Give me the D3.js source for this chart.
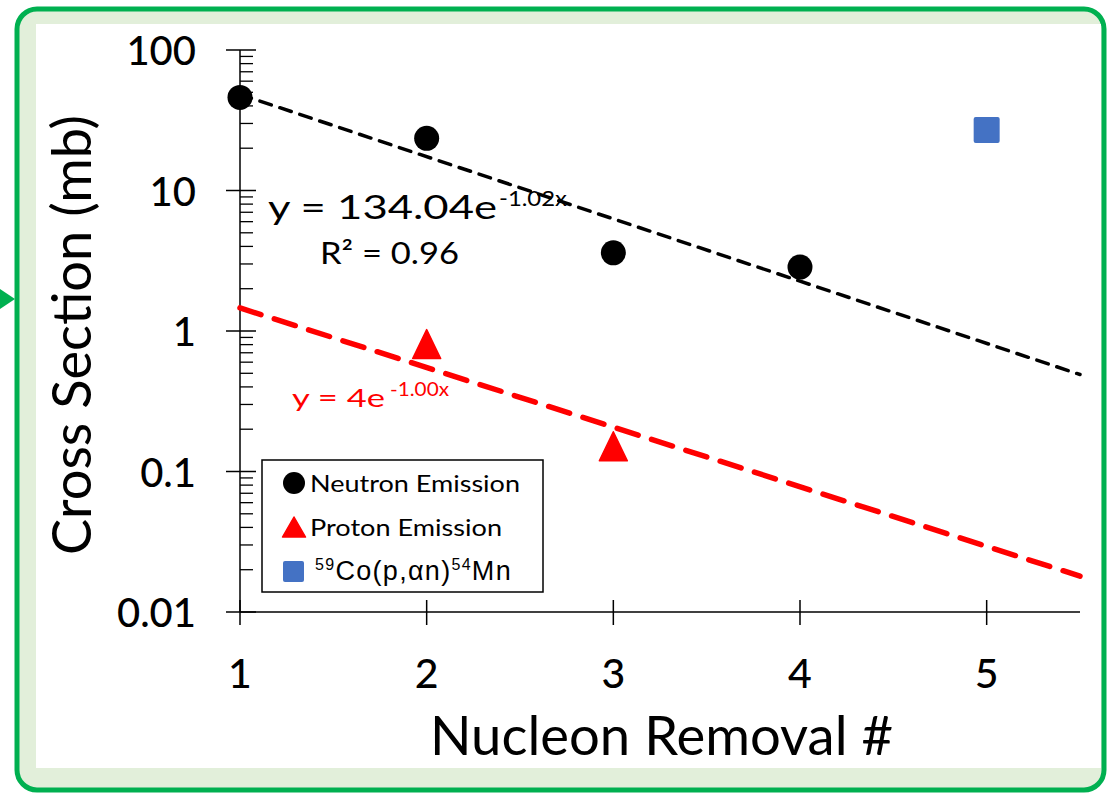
<!DOCTYPE html>
<html><head><meta charset="utf-8">
<script src="https://cdn.jsdelivr.net/npm/d3@7"></script>
<style>body{margin:0;background:#fff}svg{display:block}</style>
</head><body>
<svg id="c" width="1107" height="796"></svg>
<script>
// ---- data ----
const neutronX = [1, 2, 3, 4];
const neutronY = [46, 23.5, 3.6, 2.85];
const protonX = [2, 3];
const protonY = [0.8, 0.15];
const coX = [5];
const coY = [27];
const xTicks = [1, 2, 3, 4, 5];
const yTicks = [0.01, 0.1, 1, 10, 100];
const yTickLabels = ["0.01", "0.1", "1", "10", "100"];
// exponential trendlines (straight on log axis), endpoint values
const trendX = [1, 5.5];
const neutronTrend = [48.3, 0.49];
const protonTrend = [1.46, 0.018];

const svg = d3.select("#c");
const FONT = "Lato, 'Open Sans', sans-serif";

// frame
svg.append("rect").attr("x",17).attr("y",9).attr("width",1087).attr("height",781)
  .attr("rx",20).attr("fill","#e2efda").attr("stroke","#00b050").attr("stroke-width",5);
svg.append("rect").attr("x",36).attr("y",24).attr("width",1065).attr("height",744).attr("fill","#fff");
svg.append("path").attr("d","M0,289 L15,299 L0,309 Z").attr("fill","#00b050");

const x = d3.scaleLinear().domain([1, 5.5]).range([240, 1080]);
const y = d3.scaleLog().domain([0.01, 100]).range([612, 50]);

// y axis with minor ticks
const minor = [];
for (let e = -2; e < 2; e++) for (let m = 2; m <= 9; m++) minor.push(m * Math.pow(10, e));
const gy = svg.append("g").attr("transform","translate(240,0)");
gy.append("line").attr("y1",y(100)).attr("y2",y(0.01)).attr("stroke","#000").attr("stroke-width",1.5);
gy.selectAll(".mn").data(minor).join("line").attr("x1",0).attr("x2",13)
  .attr("y1",d=>y(d)).attr("y2",d=>y(d)).attr("stroke","#000").attr("stroke-width",1.3);
gy.selectAll(".mj").data(yTicks).join("line").attr("x1",-14).attr("x2",16)
  .attr("y1",d=>y(d)).attr("y2",d=>y(d)).attr("stroke","#000").attr("stroke-width",1.5);
gy.selectAll(".lb").data(yTicks).join("text").attr("x",-44).attr("y",d=>y(d)+15)
  .attr("text-anchor","end").attr("font-family",FONT).attr("font-weight",500)
  .attr("font-size",40).attr("fill","#000").text((d,i)=>yTickLabels[i]);

// x axis
const gx = svg.append("g").attr("transform","translate(0,612)");
gx.append("line").attr("x1",x(1)).attr("x2",x(5.5)).attr("stroke","#000").attr("stroke-width",1.5);
gx.selectAll(".t").data(xTicks).join("line").attr("x1",d=>x(d)).attr("x2",d=>x(d))
  .attr("y1",-12).attr("y2",13).attr("stroke","#000").attr("stroke-width",1.5);
gx.selectAll(".l").data(xTicks).join("text").attr("x",d=>x(d)).attr("y",76)
  .attr("text-anchor","middle").attr("font-family",FONT).attr("font-weight",500)
  .attr("font-size",41).attr("fill","#000").text(d=>d);

// titles
svg.append("text").attr("x",661.5).attr("y",755).attr("text-anchor","middle")
  .attr("font-family",FONT).attr("font-size",54).attr("textLength",463).attr("lengthAdjust","spacingAndGlyphs")
  .attr("fill","#000").text("Nucleon Removal #");
svg.append("text").attr("transform","translate(91,335) rotate(-90)").attr("text-anchor","middle")
  .attr("font-family",FONT).attr("font-size",54).attr("textLength",440).attr("lengthAdjust","spacingAndGlyphs")
  .attr("fill","#000").text("Cross Section (mb)");

// trendlines
const line = d3.line().x(d=>x(d[0])).y(d=>y(d[1]));
svg.append("path").attr("d", line(trendX.map((v,i)=>[v, neutronTrend[i]])))
  .attr("fill","none").attr("stroke","#000").attr("stroke-width",3.5)
  .attr("stroke-dasharray","12,9").attr("stroke-linecap","round");
svg.append("path").attr("d", line(trendX.map((v,i)=>[v, protonTrend[i]])))
  .attr("fill","none").attr("stroke","#ff0000").attr("stroke-width",5.5)
  .attr("stroke-dasharray","22,14").attr("stroke-linecap","round");

// points
svg.selectAll(".n").data(neutronX).join("circle").attr("cx",d=>x(d)).attr("cy",(d,i)=>y(neutronY[i]))
  .attr("r",12.5).attr("fill","#000");
const triPath = "M0,-15 L14,14 L-14,14 Z";
svg.selectAll(".p").data(protonX).join("path").attr("d",triPath)
  .attr("transform",(d,i)=>`translate(${x(d)},${y(protonY[i])})`).attr("fill","#ff0000")
  .attr("stroke","#ff0000").attr("stroke-width",1.5).attr("stroke-linejoin","round");
svg.selectAll(".s").data(coX).join("rect").attr("x",d=>x(d)-13).attr("y",(d,i)=>y(coY[i])-13)
  .attr("width",26).attr("height",26).attr("rx",2).attr("fill","#4472c4");

// equations
svg.append("text").attr("x",268).attr("y",219).attr("font-family",FONT).attr("font-size",32)
  .attr("textLength",229).attr("lengthAdjust","spacingAndGlyphs").attr("fill","#000").text("y = 134.04e");
svg.append("text").attr("x",499).attr("y",206).attr("font-family",FONT).attr("font-size",21)
  .attr("textLength",68).attr("lengthAdjust","spacingAndGlyphs").attr("fill","#000").text("-1.02x");
svg.append("text").attr("x",320).attr("y",264).attr("font-family",FONT).attr("font-size",31)
  .attr("textLength",139).attr("lengthAdjust","spacingAndGlyphs").attr("fill","#000").text("R² = 0.96");
svg.append("text").attr("x",292).attr("y",407).attr("font-family",FONT).attr("font-size",25)
  .attr("textLength",93).attr("lengthAdjust","spacingAndGlyphs").attr("fill","#ff0000").text("y = 4e");
svg.append("text").attr("x",390).attr("y",396).attr("font-family",FONT).attr("font-size",20)
  .attr("textLength",59).attr("lengthAdjust","spacingAndGlyphs").attr("fill","#ff0000").text("-1.00x");

// legend
const lg = svg.append("g");
lg.append("rect").attr("x",262).attr("y",460).attr("width",281).attr("height",132)
  .attr("fill","#fff").attr("stroke","#000").attr("stroke-width",1.5);
lg.append("circle").attr("cx",294).attr("cy",483).attr("r",11).attr("fill","#000");
lg.append("path").attr("d","M0,-10 L11.5,10 L-11.5,10 Z").attr("transform","translate(294,527)")
  .attr("fill","#ff0000").attr("stroke","#ff0000").attr("stroke-width",1.5).attr("stroke-linejoin","round");
lg.append("rect").attr("x",283).attr("y",561).attr("width",21).attr("height",21).attr("rx",2).attr("fill","#4472c4");
lg.append("text").attr("x",310).attr("y",492).attr("font-family",FONT).attr("font-size",24)
  .attr("textLength",210).attr("lengthAdjust","spacingAndGlyphs").text("Neutron Emission");
lg.append("text").attr("x",310).attr("y",536).attr("font-family",FONT).attr("font-size",24)
  .attr("textLength",192).attr("lengthAdjust","spacingAndGlyphs").text("Proton Emission");
const co = lg.append("text").attr("x",315).attr("y",580).attr("font-family","'Liberation Sans', Arial, sans-serif")
  .attr("font-size",27).attr("letter-spacing",1.3);
co.append("tspan").attr("dy",-10).attr("font-size",16).text("59");
co.append("tspan").attr("dy",10).text("Co(p,αn)");
co.append("tspan").attr("dy",-10).attr("font-size",16).text("54");
co.append("tspan").attr("dy",10).text("Mn");
</script>
</body></html>
